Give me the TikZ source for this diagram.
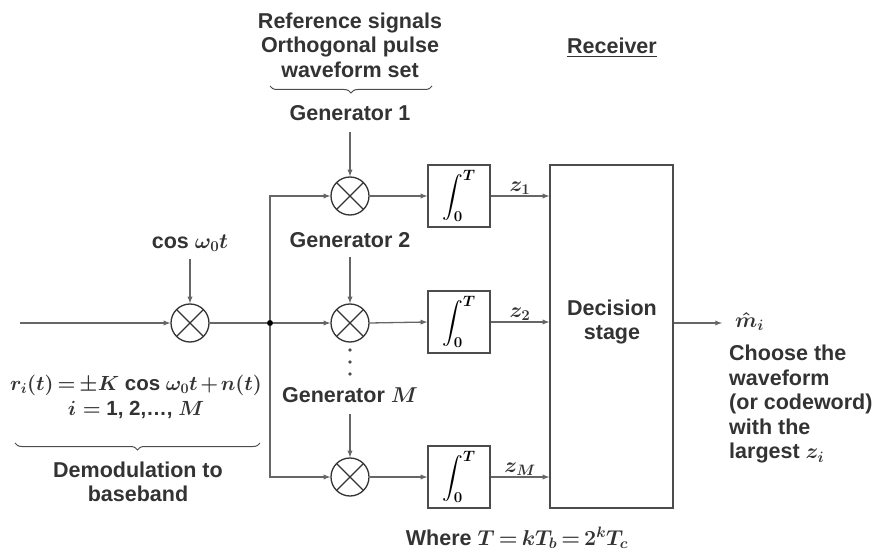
\RequirePackage{fix-cm}
\documentclass[tikz,border=0pt]{standalone}
\usepackage{exscale}
\usepackage{fontspec}
\setmainfont{Liberation Sans}
\usetikzlibrary{positioning, arrows, arrows.meta, decorations.pathreplacing}
\tikzset{>=latex}

\tikzset{
    wire/.style={draw=black!60, line width=1.3pt},
    mixer/.style={circle, draw=black!80, line width=1.3pt, minimum size=38pt, inner sep=0pt,
        path picture={\draw[black!80, line width=1.2pt]
            (path picture bounding box.south west) -- (path picture bounding box.north east)
            (path picture bounding box.north west) -- (path picture bounding box.south east);}},
    intbox/.style={draw=black!70, line width=1.3pt, minimum size=62pt, inner sep=0pt},
    txt/.style={text=black!80, align=center, inner sep=1pt},
    bracebelow/.style={draw=black!70, line width=1pt, decorate,
        decoration={brace, mirror, amplitude=7pt}}
}

\begin{document}
\begin{tikzpicture}[x=1pt, y=-1pt, font=\fontsize{21.5}{24.5}\selectfont\bfseries\boldmath]
    \useasboundingbox (0,0) rectangle (885,553);

    % demodulation
    \coordinate (in) at (20,323);
    \node[mixer] (mix0) at (190,323) {};
    \node[txt] (cosw) at (190,243) {cos $\omega_0 t$};
    \node[circle, fill=black, inner sep=0pt, minimum size=6pt] (jn) at (270,323) {};

    % correlator branches
    \node[mixer] (mix1) at (350,196) {};
    \node[mixer] (mix2) at (350,323) {};
    \node[mixer] (mixM) at (350,477) {};
    \node[txt] (gen1) at (350,113) {Generator 1};
    \node[txt] (gen2) at (350,240) {Generator 2};
    \node[txt] (genM) at (350,395) {Generator $M$};
    \foreach \y in {350,362,374}
        \fill[black!70] (350,\y) circle (1.8pt);

    \node[intbox] (int1) at (459,196) {$\displaystyle\int_0^T$};
    \node[intbox] (int2) at (459,322) {$\displaystyle\int_0^T$};
    \node[intbox] (intM) at (459,477) {$\displaystyle\int_0^T$};

    \node[draw=black!70, line width=1.3pt, minimum width=123pt, minimum height=343pt] (dec) at (611.5,336.5) {};
    \node[txt] (dectxt) at (612,322) {Decision\\stage};

    % output
    \coordinate (out) at (722,323);
    \node[txt, anchor=base west] (mhat) at (734,327) {$\hat{m}_i$};
    \node[txt, align=left, anchor=north west] (choose) at (728,344)
        {Choose the\\waveform\\(or codeword)\\with the\\largest $z_i$};

    % captions
    \node[txt] (refsig) at (350,45) {Reference signals\\Orthogonal pulse\\waveform set};
    \node[txt] (recv) at (612,48) {\underline{Receiver}};
    \node[txt, font=\fontsize{20.5}{24.5}\selectfont\bfseries\boldmath] (rt) at (136,397)
        {\thickmuskip=3mu\medmuskip=2mu
        $r_i(t) = \pm K$ cos $\omega_0 t + n(t)$\\$i =$ 1, 2,\dots, $M$};
    \node[txt] (demod) at (138,482) {Demodulation to\\baseband};
    \node[txt] (where) at (517,538) {\thickmuskip=3mu Where $T = kT_b = 2^k T_c$};

    % connectors
    \draw[wire, ->] (in) -- (mix0.west);
    \draw[wire, ->] (cosw.south) ++(0,6) -- (mix0.north);
    \draw[wire] (mix0.east) -- (jn);
    \draw[wire, ->] (jn) -- (mix2.west);
    \draw[wire, ->] (jn) |- (mix1.west);
    \draw[wire, ->] (jn) |- (mixM.west);

    \draw[wire, ->] (gen1.south) ++(0,10) -- (mix1.north);
    \draw[wire, ->] (gen2.south) ++(0,8) -- (mix2.north);
    \draw[wire, ->] (genM.south) ++(0,10) -- (mixM.north);

    \draw[wire, ->] (mix1.east) -- (int1.west);
    \draw[wire, ->] (mix2.east) -- (int2.west);
    \draw[wire, ->] (mixM.east) -- (intM.west);

    \draw[wire, ->] (int1.east) -- node[txt, above] {$z_1$} (dec.west |- int1.east);
    \draw[wire, ->] (int2.east) -- node[txt, above] {$z_2$} (dec.west |- int2.east);
    \draw[wire, ->] (intM.east) -- node[txt, above] {$z_M$} (dec.west |- intM.east);

    \draw[wire, ->] (dec.east |- out) -- (out);

    % braces
    \draw[bracebelow] (270,86) -- (432,86);
    \draw[bracebelow] (15,443) -- (260,443);
\end{tikzpicture}
\end{document}
